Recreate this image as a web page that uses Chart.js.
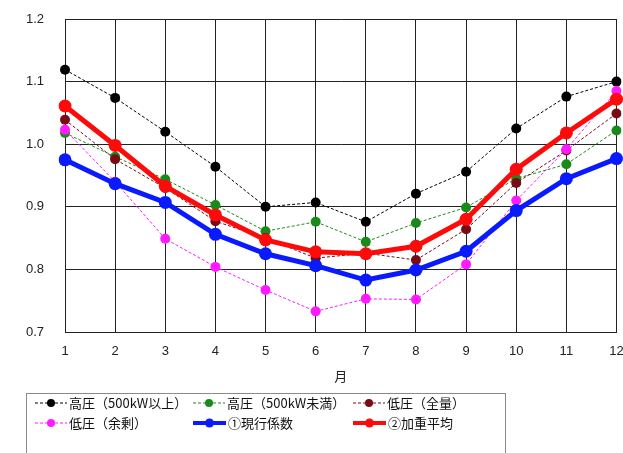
<!DOCTYPE html>
<html>
<head>
<meta charset="utf-8">
<script src="https://cdn.jsdelivr.net/npm/chart.js@4"></script>
<style>
  html, body { margin: 0; padding: 0; background: #fff; }
  #wrap { width: 623px; height: 453px; }
</style>
</head>
<body>
<div id="wrap"><canvas id="c" width="623" height="453"></canvas></div>
<script>
// Monthly coefficients by customer class
const months = ['1', '2', '3', '4', '5', '6', '7', '8', '9', '10', '11', '12'];
const highOver500 = [1.119, 1.074, 1.020, 0.964, 0.900, 0.907, 0.876, 0.921, 0.956, 1.025, 1.076, 1.100];
const highUnder500 = [1.018, 0.980, 0.944, 0.903, 0.861, 0.876, 0.844, 0.874, 0.899, 0.945, 0.968, 1.022];
const lowFull = [1.039, 0.976, 0.930, 0.877, 0.850, 0.818, 0.826, 0.815, 0.864, 0.938, 0.990, 1.049];
const lowSurplus = [1.023, 0.940, 0.849, 0.804, 0.767, 0.733, 0.753, 0.752, 0.808, 0.910, 0.992, 1.085];
const currentCoef = [0.975, 0.937, 0.907, 0.856, 0.825, 0.806, 0.783, 0.799, 0.829, 0.894, 0.945, 0.977];
const weightedAvg = [1.061, 0.998, 0.933, 0.887, 0.847, 0.828, 0.825, 0.837, 0.880, 0.960, 1.018, 1.072];
const yTicks = [0.7, 0.8, 0.9, 1.0, 1.1, 1.2];
const seriesNames = ['高圧（500kW以上）', '高圧（500kW未満）', '低圧（全量）', '低圧（余剰）', '①現行係数', '②加重平均'];

const thin = (label, data, color, order) => ({
  label, data, order,
  borderColor: color, backgroundColor: color,
  borderWidth: 1, borderDash: [3, 2],
  pointRadius: 5, pointHoverRadius: 5, pointBorderWidth: 0,
  tension: 0
});
const thick = (label, data, color, order) => ({
  label, data, order,
  borderColor: color, backgroundColor: color,
  borderWidth: 5,
  pointRadius: 6.5, pointHoverRadius: 6.5, pointBorderWidth: 0,
  tension: 0
});

// Boxed two-row legend below the axis
const boxLegend = {
  id: 'boxLegend',
  afterDraw(chart) {
    const ctx = chart.ctx;
    ctx.save();
    ctx.strokeStyle = '#8a8a8a';
    ctx.lineWidth = 1;
    ctx.strokeRect(26.5, 393.5, 479, 80);
    const cols = [35, 193, 353];
    const rows = [403, 423];
    ctx.font = '13px "Noto Sans CJK JP", sans-serif';
    ctx.textBaseline = 'middle';
    ctx.textAlign = 'left';
    chart.data.datasets.forEach((ds, i) => {
      const x = cols[i % 3], y = rows[Math.floor(i / 3)];
      const w = ds.borderWidth > 2 ? 33 : 32;
      ctx.strokeStyle = ds.borderColor;
      ctx.lineWidth = ds.borderWidth > 2 ? 4 : 1;
      ctx.setLineDash(ds.borderDash || []);
      ctx.beginPath();
      ctx.moveTo(x, y);
      ctx.lineTo(x + w, y);
      ctx.stroke();
      ctx.setLineDash([]);
      ctx.fillStyle = ds.backgroundColor;
      ctx.beginPath();
      ctx.arc(x + w / 2, y, ds.borderWidth > 2 ? 4.5 : 4, 0, Math.PI * 2);
      ctx.fill();
      ctx.fillStyle = '#111';
      ctx.fillText(ds.label, x + w + 2, y);
    });
    ctx.restore();
  }
};

new Chart(document.getElementById('c'), {
  type: 'line',
  data: {
    labels: months,
    datasets: [
      thin(seriesNames[0], highOver500, '#000000', 5),
      thin(seriesNames[1], highUnder500, '#1a8a1a', 4),
      thin(seriesNames[2], lowFull, '#7a0a14', 3),
      thin(seriesNames[3], lowSurplus, '#ff1aff', 2),
      thick(seriesNames[4], currentCoef, '#0a1aff', 1),
      thick(seriesNames[5], weightedAvg, '#ff0a0a', 0)
    ]
  },
  options: {
    responsive: false,
    animation: false,
    devicePixelRatio: 1,
    layout: { padding: { top: 19, right: 6, bottom: 69, left: 0 } },
    plugins: { legend: { display: false }, tooltip: { enabled: false } },
    scales: {
      x: {
        type: 'category',
        offset: false,
        grid: { color: '#222', lineWidth: 1, drawTicks: false },
        border: { color: '#222', width: 1 },
        ticks: { color: '#222', font: { family: 'Liberation Sans', size: 13 }, padding: 12, maxRotation: 0 },
        title: { display: true, text: '月', color: '#222', font: { family: '"Noto Sans CJK JP"', size: 13 }, padding: { top: 0, bottom: 0 } },
        afterFit(s) { s.height = 52; s.paddingLeft = 0; s.paddingRight = 0; }
      },
      y: {
        min: yTicks[0], max: yTicks[yTicks.length - 1],
        afterBuildTicks(s) { s.ticks = yTicks.map(v => ({ value: v })); },
        grid: { color: '#222', lineWidth: 1, drawTicks: false },
        border: { color: '#222', width: 1 },
        ticks: { color: '#222', font: { family: 'Liberation Sans', size: 13 }, padding: 21, callback: v => Number(v).toFixed(1) },
        afterFit(s) { s.width = 65; s.paddingTop = 0; s.paddingBottom = 0; }
      }
    }
  },
  plugins: [boxLegend]
});
</script>
</body>
</html>
